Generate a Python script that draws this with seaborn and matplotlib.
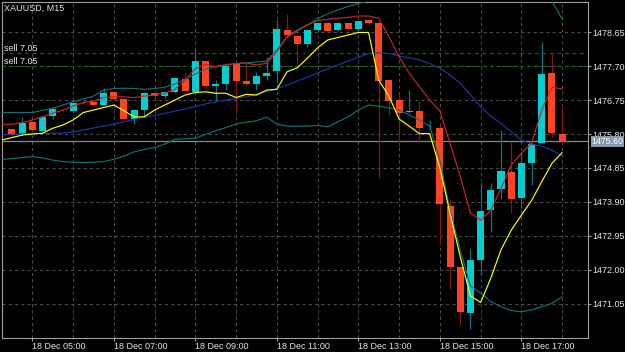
import numpy as np
import pandas as pd
import matplotlib
matplotlib.use("Agg")
import matplotlib.pyplot as plt
import seaborn as sns

# ---------------- data ----------------
symbol_title = "XAUUSD, M15"
line_start = "2019-12-18 04:15"
candle_start = "2019-12-18 04:30"

candle_open = [1475.94, 1475.79, 1476.13, 1475.89, 1476.31, 1476.47, 1476.44, 1476.68, 1476.70, 1476.62,
               1476.97, 1476.78, 1476.22, 1476.48, 1476.96, 1476.87, 1476.97, 1477.34, 1476.98, 1477.84,
               1477.14, 1477.20, 1477.75, 1477.28, 1477.20, 1477.43, 1477.55, 1478.72, 1478.55, 1478.32,
               1478.71, 1478.91, 1478.71, 1478.91, 1478.74, 1478.98, 1478.91, 1477.31, 1476.74, 1476.41,
               1476.44, 1475.96, 1475.98, 1473.79, 1472.07, 1470.79, 1472.28, 1473.67, 1474.26, 1474.74,
               1474.02, 1474.98, 1475.56, 1477.50, 1475.79]
candle_high = [1475.98, 1476.27, 1476.16, 1476.30, 1476.53, 1476.50, 1476.68, 1476.71, 1476.72, 1477.08,
               1476.99, 1476.80, 1476.48, 1476.96, 1476.98, 1477.00, 1477.38, 1477.50, 1478.17, 1477.86,
               1477.31, 1477.78, 1477.77, 1477.79, 1477.54, 1477.94, 1479.00, 1479.17, 1478.57, 1478.72,
               1478.93, 1478.93, 1478.93, 1478.93, 1478.98, 1479.00, 1478.93, 1477.33, 1476.94, 1477.03,
               1476.75, 1476.19, 1476.10, 1473.98, 1472.09, 1472.62, 1474.42, 1474.44, 1475.91, 1475.58,
               1475.28, 1475.55, 1478.38, 1478.05, 1476.52]
candle_low = [1475.74, 1475.77, 1475.88, 1475.86, 1476.21, 1476.44, 1476.42, 1476.65, 1476.58, 1476.60,
              1476.76, 1476.19, 1476.07, 1476.27, 1476.84, 1476.80, 1476.95, 1476.99, 1476.96, 1477.03,
              1476.75, 1477.03, 1476.44, 1477.17, 1477.03, 1477.31, 1477.22, 1478.50, 1477.77, 1478.22,
              1478.69, 1478.67, 1478.69, 1478.72, 1478.72, 1478.89, 1474.58, 1476.33, 1475.45, 1476.38,
              1475.56, 1475.90, 1472.75, 1471.47, 1470.46, 1470.35, 1471.86, 1473.07, 1473.98, 1473.58,
              1473.72, 1474.38, 1475.54, 1475.72, 1475.58]
candle_close = [1475.77, 1476.10, 1475.91, 1476.28, 1476.50, 1476.47, 1476.66, 1476.68, 1476.60, 1476.95,
                1476.78, 1476.21, 1476.46, 1476.94, 1476.86, 1476.97, 1477.36, 1477.01, 1477.84, 1477.14,
                1477.20, 1477.71, 1477.28, 1477.20, 1477.42, 1477.50, 1478.74, 1478.56, 1478.31, 1478.70,
                1478.91, 1478.69, 1478.91, 1478.74, 1478.96, 1478.91, 1477.29, 1476.72, 1476.39, 1476.44,
                1475.98, 1475.98, 1473.84, 1472.07, 1470.81, 1472.28, 1473.66, 1474.24, 1474.77, 1473.98,
                1474.98, 1475.52, 1477.48, 1475.82, 1475.60]

red_ma = [1476.07, 1476.07, 1476.12, 1476.19, 1476.28, 1476.38, 1476.47, 1476.58, 1476.68, 1476.72,
          1476.82, 1476.84, 1476.84, 1476.82, 1476.86, 1476.89, 1476.94, 1477.05, 1477.30, 1477.63,
          1477.74, 1477.68, 1477.74, 1477.77, 1477.79, 1477.73, 1477.78, 1478.10, 1478.51, 1478.68,
          1478.85, 1478.97, 1479.01, 1479.04, 1479.06, 1479.10, 1479.10, 1479.04, 1478.52, 1477.96,
          1477.50, 1477.12, 1476.75, 1476.44, 1475.54, 1474.61, 1473.59, 1473.39, 1473.67, 1474.28,
          1474.93, 1475.26, 1475.54, 1476.47, 1477.11, 1477.06]
yellow_ma = [1475.63, 1475.70, 1475.77, 1475.80, 1475.82, 1475.96, 1476.05, 1476.19, 1476.40, 1476.47,
             1476.54, 1476.61, 1476.45, 1476.28, 1476.28, 1476.47, 1476.61, 1476.75, 1476.89, 1476.96,
             1476.98, 1476.94, 1476.94, 1476.82, 1476.91, 1476.89, 1477.03, 1477.05, 1477.54, 1477.65,
             1477.92, 1478.21, 1478.43, 1478.50, 1478.57, 1478.64, 1478.64, 1477.31, 1476.86, 1476.22,
             1476.02, 1475.81, 1475.81, 1474.85, 1473.58, 1472.37, 1471.27, 1471.09, 1471.77, 1472.56,
             1473.11, 1473.53, 1473.94, 1474.47, 1474.98, 1475.28]
bb_middle = [1475.77, 1475.79, 1475.80, 1475.81, 1475.82, 1475.82, 1475.83, 1475.86, 1475.91, 1475.97,
             1476.02, 1476.08, 1476.14, 1476.21, 1476.27, 1476.32, 1476.38, 1476.44, 1476.50, 1476.57,
             1476.64, 1476.70, 1476.75, 1476.80, 1476.84, 1476.91, 1476.98, 1477.07, 1477.17, 1477.28,
             1477.39, 1477.51, 1477.62, 1477.73, 1477.84, 1477.95, 1478.05, 1478.07, 1478.05, 1477.98,
             1477.93, 1477.87, 1477.77, 1477.64, 1477.45, 1477.22, 1476.89, 1476.56, 1476.30, 1476.10,
             1475.86, 1475.63, 1475.52, 1475.46, 1475.35, 1475.18]
bb_upper = [1476.40, 1476.40, 1476.40, 1476.40, 1476.46, 1476.52, 1476.61, 1476.70, 1476.78, 1476.86,
            1477.03, 1477.07, 1477.08, 1477.07, 1477.05, 1477.07, 1477.11, 1477.20, 1477.33, 1477.48,
            1477.61, 1477.69, 1477.73, 1477.77, 1477.79, 1477.81, 1477.84, 1478.15, 1478.52, 1478.71,
            1478.85, 1479.03, 1479.16, 1479.27, 1479.37, 1479.45, 1479.52, 1479.69, 1479.88, 1480.05,
            1480.16, 1480.28, 1480.39, 1480.61, 1480.81, 1480.95, 1481.00, 1480.89, 1480.72, 1480.53,
            1480.33, 1480.11, 1479.91, 1479.72, 1479.52, 1479.01]
bb_lower = [1475.09, 1475.11, 1475.14, 1475.17, 1475.13, 1475.07, 1475.03, 1475.01, 1475.00, 1475.01,
            1475.03, 1475.09, 1475.18, 1475.30, 1475.37, 1475.42, 1475.52, 1475.65, 1475.67, 1475.68,
            1475.79, 1475.89, 1475.98, 1476.08, 1476.13, 1476.17, 1476.27, 1476.08, 1476.02, 1476.02,
            1476.02, 1476.04, 1476.00, 1476.14, 1476.28, 1476.47, 1476.61, 1476.58, 1476.53, 1476.47,
            1476.33, 1476.19, 1476.02, 1475.07, 1473.67, 1472.56, 1471.55, 1471.35, 1471.11, 1470.97,
            1470.86, 1470.83, 1470.88, 1470.97, 1471.06, 1471.25]

price_ticks = [1478.65, 1477.70, 1476.75, 1475.80, 1474.85, 1473.90, 1472.95, 1472.00, 1471.05]
price_tick_labels = ["1478.65", "1477.70", "1476.75", "1475.80", "1474.85",
                     "1473.90", "1472.95", "1472.00", "1471.05"]
time_tick_times = ["05:00", "07:00", "09:00", "11:00", "13:00", "15:00", "17:00"]
time_tick_labels = ["18 Dec 05:00", "18 Dec 07:00", "18 Dec 09:00", "18 Dec 11:00",
                    "18 Dec 13:00", "18 Dec 15:00", "18 Dec 17:00"]
grid_hours = ["05:00", "06:00", "07:00", "08:00", "09:00", "10:00", "11:00", "12:00",
              "13:00", "14:00", "15:00", "16:00", "17:00", "18:00"]
bid_price = 1475.60
sell_levels = [1478.06, 1477.69]
sell_lots = ["7.05", "7.05"]

# ---------------- helpers ----------------
t0 = pd.Timestamp(line_start)
step = pd.Timedelta("15min")


def to_x(times):
    return np.asarray((pd.DatetimeIndex(times) - t0) / step, dtype=float)


line_x = to_x(pd.date_range(line_start, periods=len(red_ma), freq="15min"))
candle_x = to_x(pd.date_range(candle_start, periods=len(candle_open), freq="15min"))
tick_x = to_x(["2019-12-18 " + t for t in time_tick_times])
grid_x = to_x(["2019-12-18 " + t for t in grid_hours])

o = np.array(candle_open)
h = np.array(candle_high)
l = np.array(candle_low)
c = np.array(candle_close)
bull = c >= o

# ---------------- style ----------------
sns.set_theme(style="dark", rc={"axes.facecolor": "black", "figure.facecolor": "black"})
plt.rcParams["font.family"] = ["Liberation Sans", "DejaVu Sans"]

W, H = 625, 352
fig = plt.figure(figsize=(W / 100, H / 100), dpi=100)
fig.patch.set_facecolor("black")
ax = fig.add_axes([1.7 / W, (H - 338.3) / H, 586.6 / W, 336.6 / H])
ax.set_facecolor("black")

BULL = "#00CED1"
BEAR = "#FF4424"
BULL_WICK = "#13747a"
BEAR_WICK = "#8a160c"
TXT = "#e6e6e6"
AXC = "#a0a0a0"

# price lines
ax.axhline(bid_price, color="#8a8a8a", lw=0.9, zorder=1.6)
for lvl in sell_levels:
    ax.axhline(lvl, color="#0b6a0b", lw=0.9, ls=(0, (3, 3)), zorder=1.7)

# candles
ax.vlines(candle_x, l, h, colors=np.where(bull, BULL_WICK, BEAR_WICK), linewidth=0.9, zorder=2)
ax.bar(candle_x, c - o, bottom=o, width=0.69,
       color=np.where(bull, BULL, BEAR), linewidth=0, zorder=3)

# indicators
df = pd.DataFrame({"x": line_x, "red": red_ma, "yellow": yellow_ma, "mid": bb_middle,
                   "up": bb_upper, "low": bb_lower})
sns.lineplot(data=df, x="x", y="up", ax=ax, color="#0f7373", linewidth=0.85, zorder=4)
sns.lineplot(data=df, x="x", y="low", ax=ax, color="#0f7373", linewidth=0.85, zorder=4)
sns.lineplot(data=df, x="x", y="mid", ax=ax, color="#1f35a8", linewidth=0.85, zorder=4)
sns.lineplot(data=df, x="x", y="yellow", ax=ax, color="#ffff00", linewidth=0.85, zorder=5)
sns.lineplot(data=df, x="x", y="red", ax=ax, color="#c8242a", linewidth=0.85, zorder=5)

# axes limits
ax.set_xlim(0, (588.3 - 1.7) / 10.19)
ax.set_ylim(1475.80 - (338.3 - 134) / 35.75, 1475.80 + (134 - 1.7) / 35.75)
ax.set_xlabel("")
ax.set_ylabel("")

# ticks
ax.set_yticks(price_ticks)
ax.set_yticklabels(price_tick_labels)
ax.tick_params(axis="y", which="both", left=False, right=True, labelleft=False, labelright=True,
               length=2, width=0.8, color=AXC, labelcolor=TXT, labelsize=6.5, pad=1, direction="out")
ax.set_xticks(tick_x)
ax.set_xticklabels(time_tick_labels, ha="left")
ax.set_xticks(grid_x, minor=True)
ax.tick_params(axis="x", which="major", bottom=True, length=2.5, width=0.8, color=AXC,
               labelcolor=TXT, labelsize=6.5, pad=0.5, direction="out")
ax.tick_params(axis="x", which="minor", bottom=True, length=0)

# grid
ax.grid(False)
ax.grid(True, which="both", axis="x", color="#4e4e4e", lw=0.75, ls=(0, (3, 3)), zorder=1)
ax.grid(True, which="major", axis="y", color="#4e4e4e", lw=0.75, ls=(0, (3, 3)), zorder=1)
ax.set_axisbelow(True)

for sp in ax.spines.values():
    sp.set_visible(True)
    sp.set_color(AXC)
    sp.set_linewidth(0.8)

# texts
ax.text(0.004, 0.980, symbol_title, transform=ax.transAxes, color=TXT,
        fontsize=6.5, ha="left", va="center", zorder=6)
for lvl, lot in zip(sell_levels, sell_lots):
    ax.annotate(f"sell {lot}", xy=(0.004, lvl), xycoords=("axes fraction", "data"),
                xytext=(0, 3.4), textcoords="offset points", color=TXT, fontsize=6.5,
                ha="left", va="center", zorder=6)
ax.annotate(f"{bid_price:.2f}", xy=(1.0, bid_price), xycoords=("axes fraction", "data"),
            xytext=(2.3, -0.3), textcoords="offset points", color="white", fontsize=6.3,
            ha="left", va="center", annotation_clip=False,
            bbox=dict(boxstyle="square,pad=0.08", fc="#8598ac", ec="none"), zorder=7)

fig.savefig("out.png", dpi=100, facecolor="black")
